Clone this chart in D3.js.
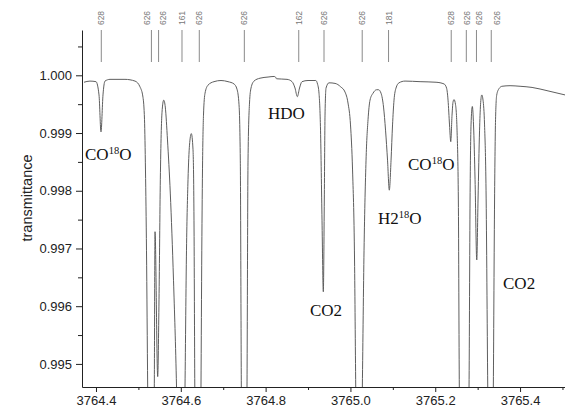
<!DOCTYPE html>
<html>
<head>
<meta charset="utf-8">
<script src="https://cdn.jsdelivr.net/npm/d3@7/dist/d3.min.js"></script>
<style>
  body { margin: 0; background: #fff; }
  svg { display: block; }
</style>
</head>
<body>
<svg id="chart" width="565" height="408"></svg>
<script>
// Measured transmittance spectrum (wavenumber in cm^-1)
const wavenumber = [
  3764.3717, 3764.3858, 3764.4000, 3764.4071, 3764.4118, 3764.4165, 3764.4212, 3764.4330,
  3764.4684, 3764.4920, 3764.5038, 3764.5108, 3764.5144, 3764.5167, 3764.5191, 3764.5219,
  3764.5297, 3764.5375, 3764.5392, 3764.5455, 3764.5486, 3764.5517, 3764.5557, 3764.5597,
  3764.5634, 3764.5686, 3764.5752, 3764.5828, 3764.5899, 3764.6005, 3764.6099, 3764.6134,
  3764.6170, 3764.6205, 3764.6248, 3764.6288, 3764.6311, 3764.6330, 3764.6406, 3764.6476,
  3764.6495, 3764.6514, 3764.6535, 3764.6571, 3764.6642, 3764.6783, 3764.6948, 3764.7113,
  3764.7255, 3764.7325, 3764.7373, 3764.7403, 3764.7427, 3764.7491, 3764.7561, 3764.7585,
  3764.7620, 3764.7656, 3764.7726, 3764.7868, 3764.8057, 3764.8198, 3764.8233, 3764.8257,
  3764.8505, 3764.8623, 3764.8693, 3764.8748, 3764.8800, 3764.8858, 3764.9000, 3764.9182,
  3764.9224, 3764.9259, 3764.9295, 3764.9330, 3764.9361, 3764.9384, 3764.9401, 3764.9425,
  3764.9495, 3764.9637, 3764.9771, 3764.9873, 3764.9943, 3765.0002, 3765.0050, 3765.0097,
  3765.0125, 3765.0203, 3765.0281, 3765.0321, 3765.0368, 3765.0415, 3765.0462, 3765.0533,
  3765.0616, 3765.0663, 3765.0722, 3765.0781, 3765.0828, 3765.0875, 3765.0917, 3765.0958,
  3765.0993, 3765.1028, 3765.1075, 3765.1146, 3765.1288, 3765.1642, 3765.2019, 3765.2208,
  3765.2267, 3765.2302, 3765.2337, 3765.2366, 3765.2396, 3765.2420, 3765.2443, 3765.2479,
  3765.2514, 3765.2545, 3765.2568, 3765.2679, 3765.2797, 3765.2821, 3765.2844, 3765.2875,
  3765.2903, 3765.2939, 3765.2979, 3765.3009, 3765.3045, 3765.3068, 3765.3097, 3765.3127,
  3765.3163, 3765.3198, 3765.3238, 3765.3304, 3765.3370, 3765.3399, 3765.3422, 3765.3450,
  3765.3505, 3765.3575, 3765.3764, 3765.4000, 3765.4283, 3765.4660, 3765.5061
];
const transmittance = [
  0.99988, 0.99990, 0.99989, 0.99966, 0.99902, 0.99966, 0.99990, 0.99993,
  0.99993, 0.99990, 0.99980, 0.99962, 0.99923, 0.99836, 0.99697, 0.99460,
  0.99004, 0.99460, 0.99729, 0.99478, 0.99611, 0.99819, 0.99936, 0.99957,
  0.99945, 0.99888, 0.99796, 0.99645, 0.99460, 0.99004, 0.99460, 0.99697,
  0.99819, 0.99879, 0.99899, 0.99871, 0.99749, 0.99460, 0.99004, 0.99460,
  0.99697, 0.99853, 0.99931, 0.99969, 0.99983, 0.99989, 0.99991, 0.99989,
  0.99985, 0.99976, 0.99949, 0.99853, 0.99460, 0.99004, 0.99460, 0.99853,
  0.99952, 0.99978, 0.99990, 0.99995, 0.99997, 0.99998, 0.99997, 0.99994,
  0.99993, 0.99989, 0.99978, 0.99963, 0.99978, 0.99989, 0.99991, 0.99991,
  0.99985, 0.99969, 0.99905, 0.99749, 0.99625, 0.99784, 0.99931, 0.99978,
  0.99987, 0.99986, 0.99980, 0.99971, 0.99952, 0.99914, 0.99836, 0.99680,
  0.99460, 0.99004, 0.99460, 0.99697, 0.99853, 0.99923, 0.99957, 0.99969,
  0.99975, 0.99975, 0.99969, 0.99945, 0.99905, 0.99853, 0.99801, 0.99853,
  0.99914, 0.99957, 0.99978, 0.99987, 0.99990, 0.99989, 0.99988, 0.99985,
  0.99978, 0.99957, 0.99914, 0.99885, 0.99931, 0.99954, 0.99958, 0.99949,
  0.99905, 0.99784, 0.99460, 0.99004, 0.99460, 0.99784, 0.99914, 0.99946,
  0.99914, 0.99819, 0.99680, 0.99784, 0.99905, 0.99949, 0.99966, 0.99957,
  0.99914, 0.99801, 0.99460, 0.99004, 0.99460, 0.99784, 0.99923, 0.99966,
  0.99977, 0.99981, 0.99982, 0.99981, 0.99979, 0.99973, 0.99966
];

// Line positions of the contributing isotopologues (HITRAN codes)
const lineCenters = [
  3764.4125, 3764.5307, 3764.5476, 3764.6028, 3764.6436, 3764.7498, 3764.8781,
  3764.9377, 3765.0278, 3765.0899, 3765.2377, 3765.2733, 3765.2972, 3765.3321
];
// Where each code is written (spread apart where lines crowd together)
const lineLabelAt = [
  3764.4125, 3764.5198, 3764.5587, 3764.6028, 3764.6436, 3764.7498, 3764.8781,
  3764.9377, 3765.0278, 3765.0899, 3765.2360, 3765.2742, 3765.3023, 3765.3448
];
const lineIsotopes = [
  "628", "626", "626", "161", "626", "626", "162",
  "626", "626", "181", "628", "626", "626", "626"
];

// Axis ticks
const xTicks = [3764.4, 3764.6, 3764.8, 3765.0, 3765.2, 3765.4];
const xMinorTicks = [3764.5, 3764.7, 3764.9, 3765.1, 3765.3, 3765.5];
const yTicks = [0.995, 0.996, 0.997, 0.998, 0.999, 1.000];
const yMinorTicks = [0.9955, 0.9965, 0.9975, 0.9985, 0.9995, 1.0005];

// Molecule annotations: [text, superscript] segments and anchor in data units
const noteSegments = [
  [["CO", false], ["18", true], ["O", false]],
  [["HDO", false]],
  [["CO2", false]],
  [["H2", false], ["18", true], ["O", false]],
  [["CO", false], ["18", true], ["O", false]],
  [["CO2", false]]
];
const noteWavenumber = [3764.3741, 3764.8057, 3764.9047, 3765.0651, 3765.1358, 3765.3599];
const noteTransmittance = [0.99853, 0.99924, 0.99583, 0.99742, 0.99836, 0.99630];

const svg = d3.select("#chart");
const margin = { top: 30, right: 0, bottom: 21, left: 82 };
const width = 565, height = 408;

const x = d3.scaleLinear().domain([3764.367, 3765.506]).range([margin.left, width - margin.right]);
const y = d3.scaleLinear().domain([0.9946, 1.000785]).range([height - margin.bottom, margin.top]);

const sansFont = "'Liberation Sans', Arial, sans-serif";
const serifFont = "'Liberation Serif', 'Times New Roman', serif";

svg.append("clipPath").attr("id", "plot-clip")
  .append("rect")
  .attr("x", margin.left).attr("y", margin.top)
  .attr("width", width - margin.left - margin.right)
  .attr("height", height - margin.top - margin.bottom);

// Spectrum curve
const points = wavenumber.map((w, i) => [w, transmittance[i]]);
const line = d3.line()
  .x(d => x(d[0]))
  .y(d => y(d[1]))
  .curve(d3.curveMonotoneX);

svg.append("path")
  .datum(points)
  .attr("clip-path", "url(#plot-clip)")
  .attr("fill", "none")
  .attr("stroke", "#5e5e5e")
  .attr("stroke-width", 1)
  .attr("d", line);

// Isotopologue markers above the spectrum
const markers = svg.append("g");
markers.selectAll("line")
  .data(lineCenters)
  .join("line")
  .attr("x1", d => x(d)).attr("x2", d => x(d))
  .attr("y1", 30).attr("y2", 62)
  .attr("stroke", "#8a8a8a")
  .attr("stroke-width", 1);
markers.selectAll("text")
  .data(lineLabelAt)
  .join("text")
  .attr("transform", d => `translate(${x(d)},18) rotate(-90)`)
  .attr("text-anchor", "middle")
  .attr("dominant-baseline", "central")
  .attr("font-family", sansFont)
  .attr("font-size", 8.5)
  .attr("fill", "#777")
  .text((d, i) => lineIsotopes[i]);

// Axes
function styleAxis(g) {
  g.selectAll("path.domain").attr("stroke", "#222");
  g.selectAll(".tick line").attr("stroke", "#222");
  g.selectAll("text")
    .attr("font-family", sansFont)
    .attr("font-size", 13)
    .attr("fill", "#222");
}

const xAxis = svg.append("g")
  .attr("transform", `translate(0,${height - margin.bottom})`)
  .call(d3.axisBottom(x).tickValues(xTicks).tickFormat(d3.format(".1f")).tickSize(5).tickSizeOuter(0).tickPadding(4));
styleAxis(xAxis);
const xMinor = svg.append("g")
  .attr("transform", `translate(0,${height - margin.bottom})`)
  .call(d3.axisBottom(x).tickValues(xMinorTicks).tickFormat("").tickSize(3).tickSizeOuter(0));
xMinor.select("path.domain").remove();
xMinor.selectAll(".tick line").attr("stroke", "#222");

const yAxis = svg.append("g")
  .attr("transform", `translate(${margin.left},0)`)
  .call(d3.axisLeft(y).tickValues(yTicks).tickFormat(d3.format(".3f")).tickSize(6).tickSizeOuter(0).tickPadding(4));
styleAxis(yAxis);
const yMinor = svg.append("g")
  .attr("transform", `translate(${margin.left},0)`)
  .call(d3.axisLeft(y).tickValues(yMinorTicks).tickFormat("").tickSize(4).tickSizeOuter(0));
yMinor.select("path.domain").remove();
yMinor.selectAll(".tick line").attr("stroke", "#222");

svg.append("text")
  .attr("transform", "translate(27,198) rotate(-90)")
  .attr("text-anchor", "middle")
  .attr("dominant-baseline", "central")
  .attr("font-family", sansFont)
  .attr("font-size", 14.5)
  .attr("fill", "#222")
  .text("transmittance");

// Molecule labels
const notes = svg.append("g")
  .attr("font-family", serifFont)
  .attr("font-size", 17)
  .attr("fill", "#111");
noteSegments.forEach((segs, i) => {
  const t = notes.append("text")
    .attr("x", x(noteWavenumber[i]))
    .attr("y", y(noteTransmittance[i]));
  let raised = false;
  segs.forEach(([str, sup]) => {
    const span = t.append("tspan").text(str);
    if (sup && !raised) { span.attr("font-size", 10.5).attr("dy", -6); raised = true; }
    else if (!sup && raised) { span.attr("dy", 6); raised = false; }
  });
});
</script>
</body>
</html>
